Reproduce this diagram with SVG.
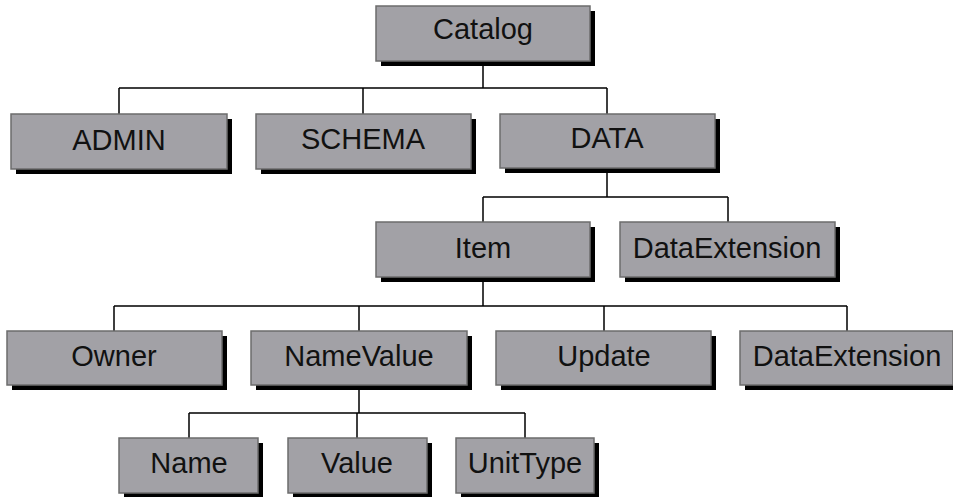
<svg xmlns="http://www.w3.org/2000/svg" width="953" height="497" viewBox="0 0 953 497">
<style>
.sh{fill:#000}
.bx{fill:#a2a1a6;stroke:#6c6c6c;stroke-width:1.5}
.t{font-family:"Liberation Sans",Arial,sans-serif;font-size:29px;fill:#111;text-anchor:middle}
.c{fill:none;stroke:#000;stroke-width:1.5}
</style>
<rect width="953" height="497" fill="#fff"/>
<g id="connectors" class="c">
<path d="M483 61V88M119 88H607M119 88V114M363 88V114M607 88V114"/>
<path d="M607 168V197M483 197H728M483 197V222M728 197V222"/>
<path d="M483 277V306M114 306H847M114 306V331M359 306V331M604 306V331M847 306V331"/>
<path d="M359 385V413M189 413H525M189 413V438M357 413V438M525 413V438"/>
</g>
<g id="catalog"><rect class="sh" x="381" y="11" width="214" height="55"/><rect class="bx" x="376" y="6" width="214" height="55"/><text class="t" x="483" y="39">Catalog</text></g>
<g id="admin"><rect class="sh" x="16" y="119" width="216" height="55"/><rect class="bx" x="11" y="114" width="216" height="55"/><text class="t" x="119" y="150">ADMIN</text></g>
<g id="schema"><rect class="sh" x="261" y="119" width="215" height="55"/><rect class="bx" x="256" y="114" width="215" height="55"/><text class="t" x="363" y="149">SCHEMA</text></g>
<g id="data"><rect class="sh" x="505" y="119" width="215" height="54"/><rect class="bx" x="500" y="114" width="215" height="54"/><text class="t" x="607" y="148">DATA</text></g>
<g id="item"><rect class="sh" x="381" y="227" width="214" height="55"/><rect class="bx" x="376" y="222" width="214" height="55"/><text class="t" x="483" y="258">Item</text></g>
<g id="dataextension1"><rect class="sh" x="625" y="227" width="215" height="55"/><rect class="bx" x="620" y="222" width="215" height="55"/><text class="t" x="727" y="258">DataExtension</text></g>
<g id="owner"><rect class="sh" x="12" y="336" width="215" height="54"/><rect class="bx" x="7" y="331" width="215" height="54"/><text class="t" x="114" y="366">Owner</text></g>
<g id="namevalue"><rect class="sh" x="256" y="336" width="216" height="54"/><rect class="bx" x="251" y="331" width="216" height="54"/><text class="t" x="359" y="366">NameValue</text></g>
<g id="update"><rect class="sh" x="501" y="336" width="215" height="54"/><rect class="bx" x="496" y="331" width="215" height="54"/><text class="t" x="604" y="366">Update</text></g>
<g id="dataextension2"><rect class="sh" x="745" y="336" width="213" height="54"/><rect class="bx" x="740" y="331" width="213" height="54"/><text class="t" x="847" y="366">DataExtension</text></g>
<g id="name"><rect class="sh" x="124" y="443" width="139" height="55"/><rect class="bx" x="119" y="438" width="139" height="55"/><text class="t" x="189" y="473">Name</text></g>
<g id="value"><rect class="sh" x="293" y="443" width="139" height="55"/><rect class="bx" x="288" y="438" width="139" height="55"/><text class="t" x="357" y="473">Value</text></g>
<g id="unittype"><rect class="sh" x="461" y="443" width="138" height="55"/><rect class="bx" x="456" y="438" width="138" height="55"/><text class="t" x="525" y="473">UnitType</text></g>
</svg>
